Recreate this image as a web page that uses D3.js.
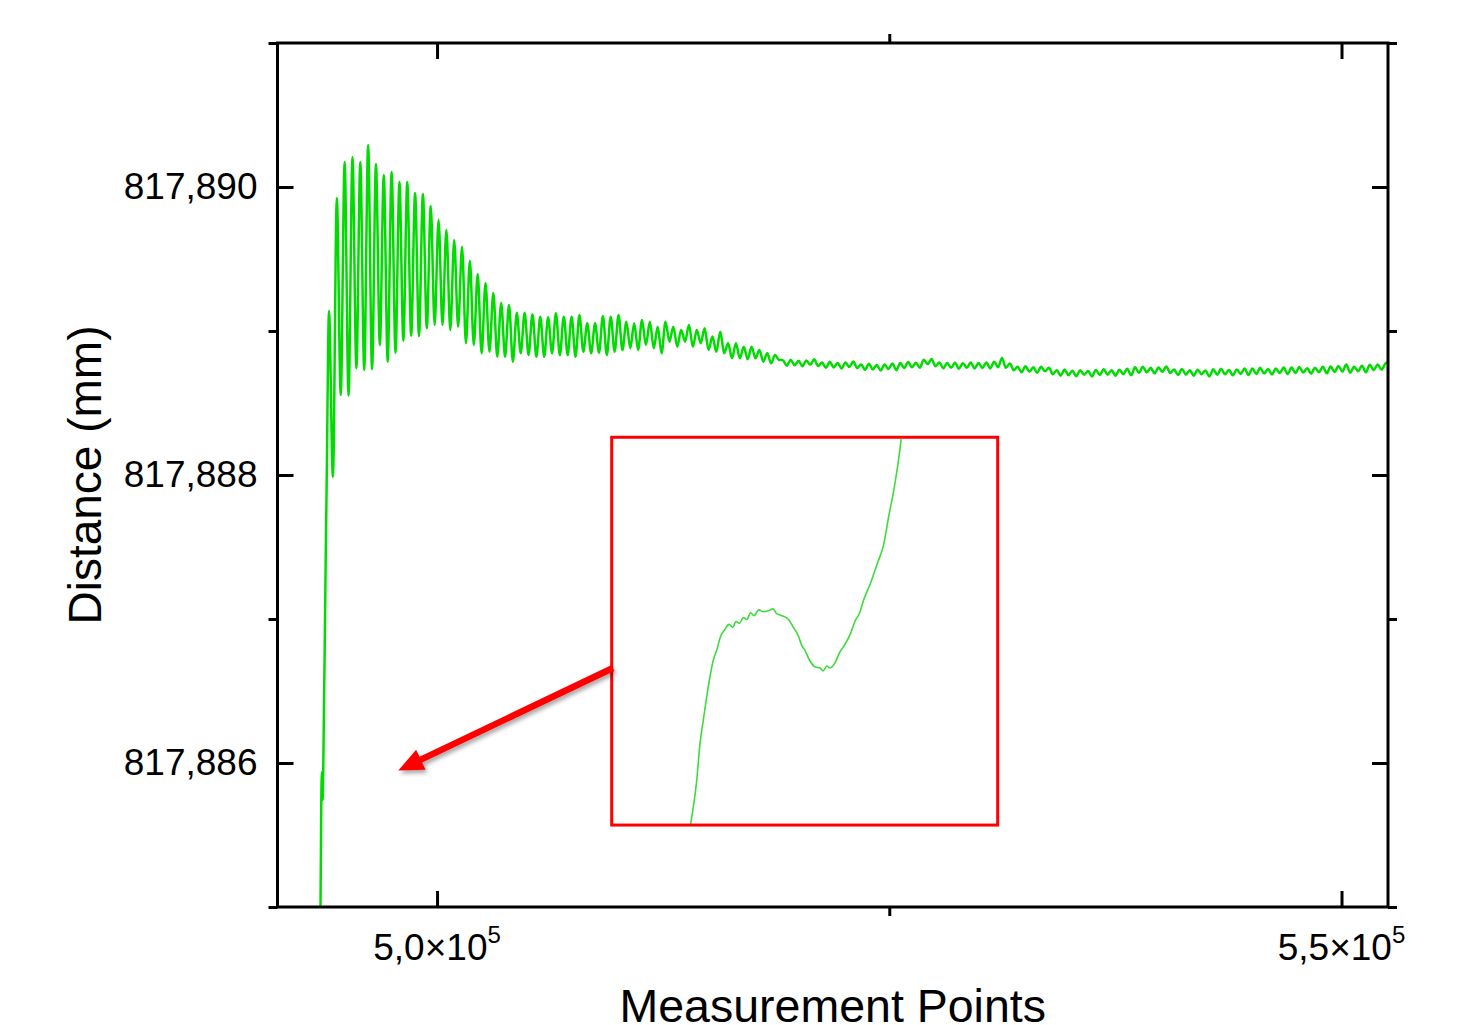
<!DOCTYPE html>
<html>
<head>
<meta charset="utf-8">
<script src="https://cdn.jsdelivr.net/npm/d3@7"></script>
<style>
  html, body { margin: 0; padding: 0; background: #fff; }
  svg { display: block; font-family: "Liberation Sans", Arial, sans-serif; }
</style>
</head>
<body>
<svg id="chart" width="1457" height="1025"></svg>
<script>
// axis ranges and ticks
const xDomain = [491180, 552570];
const yDomain = [817.885, 817.891];
const xMajorTicks = [500000, 550000];
const xMinorTicks = [525000];
const yMajorTicks = [817.886, 817.888, 817.890];
const yMinorTicks = [817.885, 817.887, 817.889, 817.891];
const xTickMantissa = ["5,0", "5,5"];
const xTickExponent = ["5", "5"];

// initial jump of the signal (measurement point, distance mm)
const riseX = [493557, 493601, 493640, 493679, 493712, 493844, 493900];
const riseY = [817.885000, 817.885743, 817.885938, 817.885743, 817.885986, 817.887410, 817.887965];

// after the jump the samples are evenly spaced
const sampleStart = 494027;
const sampleStep = 216.3;

// ringing: peak / trough pairs
const ringing = [
  817.889139, 817.887986, 817.889924, 817.888556, 817.890174, 817.888551, 817.890208, 817.888741,
  817.890174, 817.888729, 817.890292, 817.888734, 817.890160, 817.888903, 817.890083, 817.888787,
  817.890104, 817.888849, 817.890035, 817.888933, 817.890035, 817.888967, 817.889958, 817.888965,
  817.889951, 817.889019, 817.889868, 817.889042, 817.889771, 817.889042, 817.889701, 817.889007,
  817.889632, 817.889030, 817.889585, 817.888915, 817.889488, 817.888903, 817.889396, 817.888845,
  817.889333, 817.888856, 817.889264, 817.888821, 817.889194, 817.888821, 817.889181, 817.888787,
  817.889127, 817.888845, 817.889127, 817.888833, 817.889116, 817.888821, 817.889099, 817.888821,
  817.889095, 817.888845, 817.889123, 817.888833, 817.889099, 817.888833, 817.889099, 817.888821,
  817.889111, 817.888856, 817.889053, 817.888845, 817.889053, 817.888849, 817.889104, 817.888833,
  817.889099, 817.888856, 817.889111, 817.888868, 817.889065, 817.888880, 817.889053, 817.888868,
  817.889076, 817.888903, 817.889065, 817.888880, 817.889030, 817.888845, 817.889065, 817.888926,
  817.889030, 817.888891, 817.889007, 817.888926, 817.889042, 817.888891, 817.889007, 817.888915,
  817.889019, 817.888868, 817.888961, 817.888856, 817.888995, 817.888845, 817.888915, 817.888810,
  817.888915, 817.888810, 817.888891, 817.888803, 817.888891, 817.888810, 817.888868, 817.888787,
  817.888845, 817.888776, 817.888833, 817.888799
];

// settled part (noisy plateau)
const settled = [
  817.888797, 817.888759, 817.888801, 817.888762, 817.888793, 817.888755, 817.888796, 817.888765, 817.888803, 817.888757,
  817.888782, 817.888744, 817.888786, 817.888747, 817.888778, 817.888740, 817.888781, 817.888750, 817.888788, 817.888742,
  817.888768, 817.888730, 817.888772, 817.888733, 817.888764, 817.888726, 817.888767, 817.888736, 817.888774, 817.888728,
  817.888778, 817.888742, 817.888785, 817.888748, 817.888780, 817.888745, 817.888800, 817.888770, 817.888805, 817.888755,
  817.888782, 817.888741, 817.888778, 817.888745, 817.888780, 817.888738, 817.888776, 817.888744, 817.888781, 817.888740,
  817.888778, 817.888742, 817.888781, 817.888740, 817.888786, 817.888748, 817.888812, 817.888745, 817.888775, 817.888728,
  817.888752, 817.888714, 817.888755, 817.888717, 817.888748, 817.888710, 817.888751, 817.888720, 817.888745, 817.888700,
  817.888728, 817.888690, 817.888732, 817.888693, 817.888724, 817.888686, 817.888727, 817.888696, 817.888722, 817.888684,
  817.888730, 817.888694, 817.888735, 817.888697, 817.888728, 817.888690, 817.888731, 817.888700, 817.888738, 817.888692,
  817.888748, 817.888710, 817.888752, 817.888713, 817.888744, 817.888706, 817.888747, 817.888716, 817.888754, 817.888708,
  817.888732, 817.888694, 817.888736, 817.888697, 817.888728, 817.888690, 817.888731, 817.888700, 817.888726, 817.888685,
  817.888734, 817.888696, 817.888738, 817.888699, 817.888730, 817.888692, 817.888733, 817.888702, 817.888740, 817.888694,
  817.888740, 817.888702, 817.888744, 817.888705, 817.888736, 817.888698, 817.888739, 817.888708, 817.888746, 817.888700,
  817.888746, 817.888708, 817.888750, 817.888711, 817.888742, 817.888704, 817.888745, 817.888714, 817.888752, 817.888706,
  817.888753, 817.888715, 817.888757, 817.888718, 817.888768, 817.888711, 817.888752, 817.888721, 817.888759, 817.888713,
  817.888765, 817.888728, 817.888768, 817.888732, 817.888775, 817.888785
];

// zoomed view of the small step in the jump
const insetX = [
  493632.7, 493635.2, 493636.6, 493637.9, 493640.0, 493642.1, 493643.5, 493645.2, 493647.0, 493648.6,
  493650.2, 493651.5, 493652.9, 493654.6, 493656.0, 493657.6, 493659.0, 493661.0, 493662.9, 493665.0,
  493666.8, 493668.4, 493670.5, 493673.3, 493675.3, 493677.4, 493678.8, 493680.2, 493682.0, 493684.4,
  493686.4, 493687.6, 493689.2, 493690.6, 493692.7, 493694.5, 493696.1, 493698.9, 493701.0, 493702.8,
  493704.4, 493707.2, 493710.0, 493712.8, 493714.8, 493716.9, 493718.7, 493720.0
];
const insetY = [
  817.885701, 817.885745, 817.885784, 817.885807, 817.885842, 817.885870, 817.885880, 817.885895, 817.885902, 817.885907,
  817.885904, 817.885910, 817.885908, 817.885914, 817.885912, 817.885919, 817.885916, 817.885922, 817.885920, 817.885921,
  817.885923, 817.885918, 817.885916, 817.885912, 817.885904, 817.885895, 817.885885, 817.885880, 817.885870, 817.885863,
  817.885862, 817.885859, 817.885864, 817.885862, 817.885868, 817.885878, 817.885884, 817.885897, 817.885911, 817.885919,
  817.885932, 817.885949, 817.885969, 817.885990, 817.886018, 817.886045, 817.886073, 817.886098
];
const insetXDomain = [493600, 493760];
const insetYDomain = [817.8857, 817.8861];

// where the inset and arrow sit, in main chart units
const insetBox = { x0: 509655, x1: 530993, y0: 817.885569, y1: 817.888262 };
const arrowFrom = { x: 509727, y: 817.886660 };
const arrowTo = { x: 497858, y: 817.885948 };

const margin = { top: 43, right: 69, bottom: 118, left: 277.5 };
const width = 1457 - margin.left - margin.right;
const height = 1025 - margin.top - margin.bottom;

const svg = d3.select("#chart");
const defs = svg.append("defs");
defs.append("clipPath").attr("id", "plotClip")
  .append("rect").attr("width", width).attr("height", height);
const shadow = defs.append("filter").attr("id", "shadow")
  .attr("x", "-20%").attr("y", "-20%").attr("width", "140%").attr("height", "160%");
shadow.append("feDropShadow").attr("dx", 2).attr("dy", 3).attr("stdDeviation", 2)
  .attr("flood-color", "#000").attr("flood-opacity", 0.35);

const g = svg.append("g").attr("transform", `translate(${margin.left},${margin.top})`);

const x = d3.scaleLinear().domain(xDomain).range([0, width]);
const y = d3.scaleLinear().domain(yDomain).range([height, 0]);

// build the series
const series = riseX.map((v, i) => ({ x: v, y: riseY[i] }));
ringing.concat(settled).forEach((v, i) => series.push({ x: sampleStart + i * sampleStep, y: v }));

const line = d3.line()
  .x(d => x(d.x))
  .y(d => y(d.y))
  .curve(d3.curveMonotoneX);

g.append("path")
  .datum(series)
  .attr("clip-path", "url(#plotClip)")
  .attr("d", line)
  .style("fill", "none")
  .style("stroke", "#00dc00")
  .style("stroke-width", 2.5)
  .style("stroke-linejoin", "round");

// axes: major ticks inward, minor ticks outward
const styleAxis = sel => {
  sel.select(".domain").remove();
  sel.selectAll(".tick line").style("stroke", "#000").style("stroke-width", 3);
  sel.selectAll(".tick text").style("font-size", "37px").style("fill", "#000")
    .style("font-family", "'Liberation Sans', Arial, sans-serif");
};

const yFmt = d => d3.format(".3f")(d).replace(".", ",");

g.append("g").call(d3.axisLeft(y).tickValues(yMajorTicks).tickSize(-16).tickPadding(20).tickFormat(yFmt)).call(styleAxis);
g.append("g").call(d3.axisLeft(y).tickValues(yMinorTicks).tickSize(9).tickFormat("")).call(styleAxis);
g.append("g").attr("transform", `translate(${width},0)`)
  .call(d3.axisRight(y).tickValues(yMajorTicks).tickSize(-16).tickFormat("")).call(styleAxis);
g.append("g").attr("transform", `translate(${width},0)`)
  .call(d3.axisRight(y).tickValues(yMinorTicks).tickSize(9).tickFormat("")).call(styleAxis);

const xBottom = g.append("g").attr("transform", `translate(0,${height})`);
xBottom.call(d3.axisBottom(x).tickValues(xMajorTicks).tickSize(-16).tickFormat("")).call(styleAxis);
g.append("g").attr("transform", `translate(0,${height})`)
  .call(d3.axisBottom(x).tickValues(xMinorTicks).tickSize(9).tickFormat("")).call(styleAxis);
g.append("g").call(d3.axisTop(x).tickValues(xMajorTicks).tickSize(-16).tickFormat("")).call(styleAxis);
g.append("g").call(d3.axisTop(x).tickValues(xMinorTicks).tickSize(9).tickFormat("")).call(styleAxis);

// x tick labels with superscript exponent
xMajorTicks.forEach((v, i) => {
  const t = xBottom.append("text")
    .attr("x", x(v))
    .attr("y", 53)
    .attr("text-anchor", "middle")
    .style("font-size", "37px")
    .style("fill", "#000");
  t.append("tspan").text(xTickMantissa[i] + "\u00d710");
  t.append("tspan").attr("dy", -17).style("font-size", "24px").text(xTickExponent[i]);
});

// frame
g.append("rect")
  .attr("width", width)
  .attr("height", height)
  .style("fill", "none")
  .style("stroke", "#000")
  .style("stroke-width", 3);

// axis titles
svg.append("text")
  .attr("transform", `translate(101,${margin.top + height / 2}) rotate(-90)`)
  .attr("text-anchor", "middle")
  .style("font-size", "46px")
  .text("Distance (mm)");

svg.append("text")
  .attr("x", margin.left + width / 2)
  .attr("y", 1022)
  .attr("text-anchor", "middle")
  .style("font-size", "46.5px")
  .text("Measurement Points");

// inset with magnified step
const bx0 = x(insetBox.x0), bx1 = x(insetBox.x1);
const by0 = y(insetBox.y1), by1 = y(insetBox.y0);
const ix = d3.scaleLinear().domain(insetXDomain).range([bx0, bx1]);
const iy = d3.scaleLinear().domain(insetYDomain).range([by1, by0]);

defs.append("clipPath").attr("id", "insetClip")
  .append("rect").attr("x", bx0).attr("y", by0).attr("width", bx1 - bx0).attr("height", by1 - by0);

g.append("path")
  .datum(insetX.map((v, i) => ({ x: v, y: insetY[i] })))
  .attr("clip-path", "url(#insetClip)")
  .attr("d", d3.line().x(d => ix(d.x)).y(d => iy(d.y)).curve(d3.curveMonotoneX))
  .style("fill", "none")
  .style("stroke", "#3ddc3d")
  .style("stroke-width", 1.6);

g.append("rect")
  .attr("x", bx0).attr("y", by0)
  .attr("width", bx1 - bx0).attr("height", by1 - by0)
  .style("fill", "none")
  .style("stroke", "#ff0000")
  .style("stroke-width", 3);

// arrow pointing at the step
const ax0 = x(arrowFrom.x), ay0 = y(arrowFrom.y);
const ax1 = x(arrowTo.x), ay1 = y(arrowTo.y);
const ang = Math.atan2(ay1 - ay0, ax1 - ax0);
const headLen = 25, headHalf = 11;
const bx = ax1 - headLen * Math.cos(ang), byy = ay1 - headLen * Math.sin(ang);
const arrow = g.append("g").attr("filter", "url(#shadow)");
arrow.append("line")
  .attr("x1", ax0).attr("y1", ay0)
  .attr("x2", bx + 4 * Math.cos(ang)).attr("y2", byy + 4 * Math.sin(ang))
  .style("stroke", "#ff0000")
  .style("stroke-width", 6.5);
arrow.append("path")
  .attr("d", `M${ax1},${ay1}L${bx - headHalf * Math.sin(ang)},${byy + headHalf * Math.cos(ang)}L${bx + headHalf * Math.sin(ang)},${byy - headHalf * Math.cos(ang)}Z`)
  .style("fill", "#ff0000");
</script>
</body>
</html>
